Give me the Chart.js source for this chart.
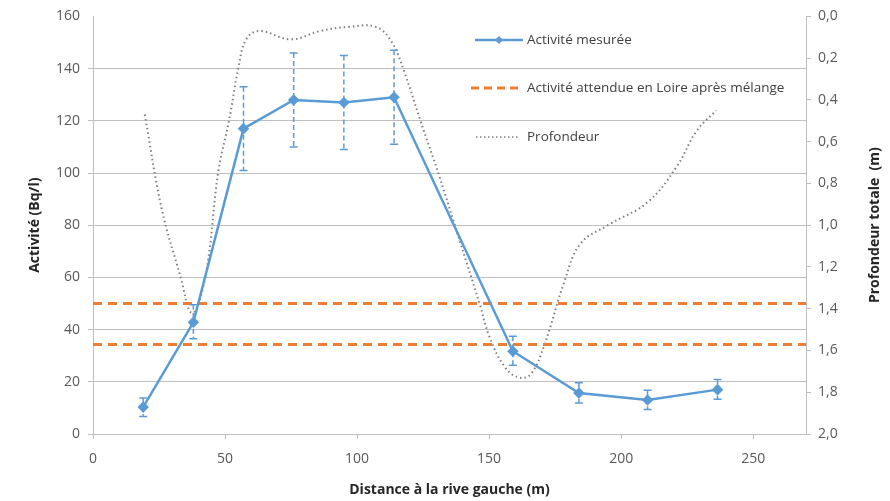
<!DOCTYPE html>
<html lang="fr">
<head>
    <meta charset="UTF-8">
    <title>Activité mesurée et profondeur</title>
    <script src="https://cdn.jsdelivr.net/npm/chart.js"></script>
    <style>
        body { margin: 0; background: #fff; }
        #wrap { width: 890px; height: 501px; }
    </style>
</head>
<body>
    <div id="wrap"><canvas id="chart" width="890" height="501"></canvas></div>

    <script>
        // Activité mesurée (Bq/l) avec barres d'erreur
        const mesX = [19, 38, 57, 76, 95, 114, 159, 184, 210, 236.5];
        const mesY = [10.3, 42.8, 117, 128, 127, 129, 31.7, 15.7, 13, 17];
        const mesLow = [6.7, 36.5, 101, 110, 109, 111, 26.3, 11.9, 9.4, 13.3];
        const mesHigh = [13.8, 49.5, 133, 146, 145, 147, 37.5, 19.6, 16.8, 20.9];

        // Activité attendue en Loire après mélange (deux niveaux)
        const attX = [0, 270];
        const attHaut = [50, 50];
        const attBas = [34.3, 34.3];

        // Profondeur totale (m)
        const profX = [19.6, 26, 33, 37.5, 42.5, 47.5, 51.5, 55, 58, 63, 75, 86, 97, 107, 113, 118, 124, 131, 139, 146.5, 150, 156, 161.5, 166, 171, 178.5, 184.5, 195, 210, 221, 228.5, 236];
        const profY = [0.47, 0.92, 1.24, 1.42, 1.25, 0.74, 0.50, 0.25, 0.11, 0.07, 0.11, 0.07, 0.05, 0.05, 0.12, 0.27, 0.50, 0.76, 1.08, 1.38, 1.53, 1.68, 1.73, 1.71, 1.57, 1.27, 1.09, 1.0, 0.89, 0.72, 0.55, 0.45];

        const BLUE = "#5b9bd5";
        const ORANGE = "#ed7d31";
        const GREY = "#7f7f7f";
        const FONT = "'Open Sans', 'Liberation Sans', sans-serif";

        const pts = (xs, ys) => xs.map((v, i) => ({ x: v, y: ys[i] }));

        // barres d'erreur verticales en tirets
        const errorBars = {
            id: "errorBars",
            afterDatasetsDraw(chart) {
                const { ctx, scales: { x, y } } = chart;
                ctx.save();
                ctx.strokeStyle = BLUE;
                ctx.lineWidth = 1.5;
                mesX.forEach((d, i) => {
                    const px = x.getPixelForValue(d);
                    const top = y.getPixelForValue(mesHigh[i]);
                    const bot = y.getPixelForValue(mesLow[i]);
                    ctx.setLineDash([5, 3]);
                    ctx.beginPath();
                    ctx.moveTo(px, top);
                    ctx.lineTo(px, bot);
                    ctx.stroke();
                    ctx.setLineDash([]);
                    ctx.beginPath();
                    ctx.moveTo(px - 4, top); ctx.lineTo(px + 4, top);
                    ctx.moveTo(px - 4, bot); ctx.lineTo(px + 4, bot);
                    ctx.stroke();
                });
                ctx.restore();
            }
        };

        // légende dans la zone de tracé + titre de l'axe de droite
        const extras = {
            id: "extras",
            afterDraw(chart) {
                const ctx = chart.ctx;
                ctx.save();
                ctx.font = "13.5px " + FONT;
                ctx.fillStyle = "#404040";
                ctx.textBaseline = "middle";
                ctx.textAlign = "left";

                // Activité mesurée
                ctx.strokeStyle = BLUE;
                ctx.lineWidth = 2.5;
                ctx.beginPath(); ctx.moveTo(475, 40); ctx.lineTo(523, 40); ctx.stroke();
                ctx.fillStyle = BLUE;
                ctx.beginPath();
                ctx.moveTo(499, 36); ctx.lineTo(503, 40); ctx.lineTo(499, 44); ctx.lineTo(495, 40);
                ctx.closePath(); ctx.fill();
                ctx.fillStyle = "#404040";
                ctx.fillText("Activité mesurée", 527, 40);

                // Activité attendue
                ctx.strokeStyle = ORANGE;
                ctx.lineWidth = 3;
                ctx.setLineDash([8, 5]);
                ctx.beginPath(); ctx.moveTo(471, 88); ctx.lineTo(523, 88); ctx.stroke();
                ctx.fillText("Activité attendue en Loire après mélange", 527, 88);

                // Profondeur
                ctx.strokeStyle = GREY;
                ctx.lineWidth = 1.5;
                ctx.setLineDash([1.5, 2.5]);
                ctx.beginPath(); ctx.moveTo(476, 137); ctx.lineTo(520, 137); ctx.stroke();
                ctx.setLineDash([]);
                ctx.fillText("Profondeur", 527, 137);

                // titre axe droit
                const area = chart.chartArea;
                ctx.translate(875, (area.top + area.bottom) / 2);
                ctx.rotate(-Math.PI / 2);
                ctx.textAlign = "center";
                ctx.font = "bold 14px " + FONT;
                ctx.fillStyle = "#262626";
                ctx.fillText("Profondeur totale  (m)", 0, 0);
                ctx.restore();
            }
        };

        new Chart(document.getElementById("chart"), {
            type: "line",
            data: {
                datasets: [
                    {
                        label: "Activité mesurée",
                        data: pts(mesX, mesY),
                        borderColor: BLUE,
                        backgroundColor: BLUE,
                        borderWidth: 2.5,
                        pointStyle: "rectRot",
                        pointRadius: 4,
                        yAxisID: "y",
                        order: 0
                    },
                    {
                        label: "Activité attendue en Loire après mélange",
                        data: pts(attX, attHaut),
                        borderColor: ORANGE,
                        borderWidth: 3,
                        borderDash: [9, 6],
                        pointRadius: 0,
                        yAxisID: "y",
                        order: 1
                    },
                    {
                        label: "Activité attendue (bas)",
                        data: pts(attX, attBas),
                        borderColor: ORANGE,
                        borderWidth: 3,
                        borderDash: [9, 6],
                        pointRadius: 0,
                        yAxisID: "y",
                        order: 1
                    },
                    {
                        label: "Profondeur",
                        data: pts(profX, profY),
                        borderColor: GREY,
                        borderWidth: 2,
                        borderDash: [1.5, 3],
                        pointRadius: 0,
                        tension: 0.4,
                        yAxisID: "y2",
                        order: 2
                    }
                ]
            },
            options: {
                responsive: false,
                animation: false,
                devicePixelRatio: 1,
                layout: { padding: { top: 12 } },
                plugins: {
                    legend: { display: false },
                    tooltip: { enabled: false }
                },
                scales: {
                    x: {
                        type: "linear",
                        min: 0,
                        max: 270,
                        afterFit: s => { s.height = 67; },
                        ticks: {
                            stepSize: 50,
                            includeBounds: false,
                            padding: 12,
                            color: "#595959",
                            font: { family: FONT, size: 14 }
                        },
                        grid: { drawOnChartArea: false, tickLength: 5, color: "#bfbfbf" },
                        border: { color: "#bfbfbf" },
                        title: {
                            display: true,
                            text: "Distance à la rive gauche (m)",
                            color: "#262626",
                            font: { family: FONT, size: 14, weight: "bold" },
                            padding: { top: 0, bottom: 3 }
                        }
                    },
                    y: {
                        position: "left",
                        min: 0,
                        max: 160,
                        afterFit: s => { s.width = 93; },
                        ticks: {
                            stepSize: 20,
                            padding: 8,
                            color: "#595959",
                            font: { family: FONT, size: 14 }
                        },
                        grid: {
                            tickLength: 5,
                            color: c => (c.tick && c.tick.value === 160 ? "rgba(0,0,0,0)" : "#bfbfbf")
                        },
                        border: { color: "#bfbfbf" },
                        title: {
                            display: true,
                            text: "Activité (Bq/l)",
                            color: "#262626",
                            font: { family: FONT, size: 14, weight: "bold" },
                            padding: { top: 27, bottom: 0 }
                        }
                    },
                    y2: {
                        position: "right",
                        min: 0,
                        max: 2,
                        reverse: true,
                        afterFit: s => { s.width = 84; },
                        ticks: {
                            stepSize: 0.2,
                            padding: 7,
                            color: "#595959",
                            font: { family: FONT, size: 14 },
                            callback: v => v.toFixed(1).replace(".", ",")
                        },
                        grid: { drawOnChartArea: false, tickLength: 5, color: "#bfbfbf" },
                        border: { color: "#bfbfbf" }
                    }
                }
            },
            plugins: [errorBars, extras]
        });
    </script>
</body>
</html>
